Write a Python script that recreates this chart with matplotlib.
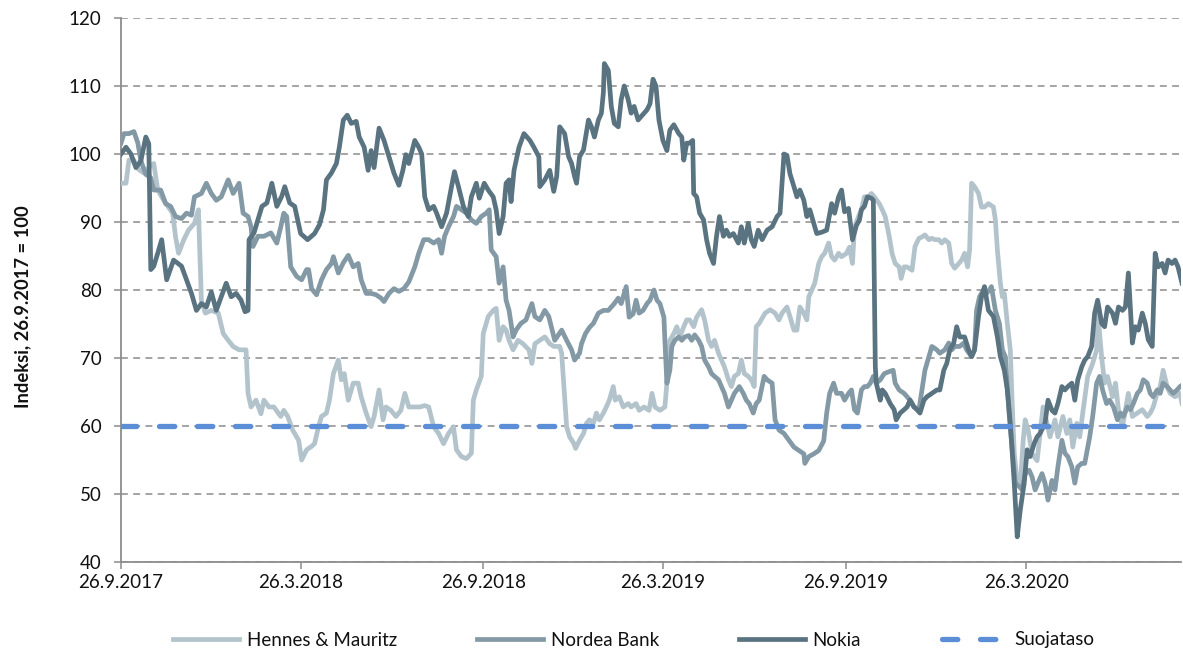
import numpy as np
import matplotlib
matplotlib.use("Agg")
import matplotlib.pyplot as plt

plt.rcParams['font.family'] = ['Lato', 'DejaVu Sans']

# ---------------- data ----------------
START = np.datetime64('2017-09-26')
END = np.datetime64('2020-08-29')
# day offsets below were read on the chart's own time scale
DAY_SCALE = 1.0086

tick_dates = ['2017-09-26', '2018-03-26', '2018-09-26', '2019-03-26', '2019-09-26', '2020-03-26']
tick_labels = ['26.9.2017', '26.3.2018', '26.9.2018', '26.3.2019', '26.9.2019', '26.3.2020']
y_ticks = [40, 50, 60, 70, 80, 90, 100, 110, 120]

hm_day = [0, 5, 8, 13, 18, 23, 28, 33, 37, 43, 52, 55, 58, 62, 67, 73, 77, 80, 84, 90, 97, 102, 107, 112, 118, 125,
          127, 130, 135, 140, 143, 148, 153, 160, 163, 167, 172, 177, 180, 185, 190, 193, 197, 200, 205, 208, 212, 217,
          220, 223, 227, 232, 237, 240, 245, 250, 253, 258, 262, 265, 270, 275, 280, 284, 288, 293, 298, 303, 307, 312,
          317, 322, 327, 332, 335, 340, 345, 350, 352, 355, 360, 362, 367, 372, 375, 378, 382, 385, 388, 392, 397, 402,
          407, 410, 413, 418, 423, 428, 432, 438, 440, 442, 445, 448, 452, 454, 458, 462, 465, 468, 472, 475, 478, 482,
          485, 488, 492, 494, 498, 502, 507, 510, 515, 518, 523, 527, 530, 533, 538, 543, 545, 548, 552, 555, 558, 562,
          565, 568, 572, 575, 580, 583, 587, 590, 593, 597, 600, 603, 607, 610, 613, 617, 620, 623, 627, 630, 633, 635,
          638, 643, 648, 653, 657, 660, 665, 668, 672, 675, 678, 682, 685, 687, 690, 693, 697, 700, 703, 707, 710, 713,
          717, 720, 725, 728, 731, 733, 737, 740, 743, 747, 750, 753, 757, 760, 763, 767, 770, 773, 777, 779, 782, 785,
          790, 793, 797, 800, 803, 807, 810, 813, 817, 820, 823, 827, 830, 833, 837, 840, 843, 846, 848, 850, 853, 857,
          860, 863, 867, 872, 873, 875, 878, 880, 882, 885, 888, 890, 892, 895, 898, 901, 903, 906, 910, 915, 918, 921,
          925, 928, 933, 936, 941, 945, 948, 951, 955, 958, 961, 966, 971, 975, 976, 980, 983, 986, 990, 993, 996, 1000,
          1003, 1006, 1010, 1015, 1020, 1025, 1028, 1031, 1035, 1038, 1041, 1045, 1048, 1053, 1058, 1060]
hm_val = [95.7, 95.7, 99.1, 99.1, 97.7, 97.2, 98.0, 98.6, 94.7, 93.2, 91.3, 87.8, 85.4, 87.3, 88.8, 89.8, 91.8, 78.5,
          76.6, 77.0, 76.6, 73.6, 72.6, 71.7, 71.2, 71.2, 64.8, 62.8, 63.8, 61.8, 63.8, 62.8, 62.8, 61.4, 62.3, 61.4,
          59.4, 57.9, 55.0, 56.5, 57.0, 57.4, 59.9, 61.4, 61.9, 63.8, 67.7, 69.7, 66.8, 67.7, 63.8, 66.3, 66.3, 64.3,
          61.9, 59.9, 61.4, 65.3, 60.9, 62.8, 62.3, 61.4, 62.3, 64.8, 62.8, 62.8, 62.8, 63.0, 62.8, 59.9, 58.9, 57.4,
          58.9, 59.9, 56.5, 55.5, 55.2, 56.0, 63.8, 65.3, 67.3, 73.6, 76.1, 77.0, 77.3, 72.6, 74.6, 74.1, 72.6, 71.2,
          72.6, 72.1, 71.2, 69.2, 72.1, 72.6, 73.1, 72.1, 71.7, 71.7, 70.7, 66.3, 59.9, 58.4, 57.5, 56.7, 57.9, 58.9,
          60.4, 60.9, 60.4, 61.9, 60.9, 61.9, 62.8, 63.8, 65.8, 63.8, 64.3, 62.8, 63.3, 62.8, 63.3, 62.3, 62.8, 62.3,
          64.8, 62.8, 62.3, 62.8, 66.3, 72.6, 73.6, 74.6, 73.1, 74.6, 75.6, 75.6, 74.6, 76.0, 77.1, 75.6, 72.6, 71.7,
          72.6, 70.7, 69.7, 68.7, 66.8, 65.8, 67.3, 67.7, 69.7, 67.7, 67.3, 66.8, 65.8, 74.6, 75.1, 76.6, 77.1, 76.6,
          75.6, 76.6, 77.5, 76.1, 74.1, 74.1, 77.5, 76.6, 75.6, 79.0, 80.0, 81.0, 83.9, 84.9, 85.4, 86.9, 84.9, 84.4,
          85.4, 84.9, 85.4, 86.3, 83.9, 89.2, 90.8, 91.8, 93.7, 93.7, 94.2, 93.7, 92.7, 91.8, 90.8, 87.9, 85.3, 83.9,
          83.4, 81.7, 83.4, 83.4, 82.9, 86.4, 87.6, 87.8, 88.1, 87.4, 87.6, 87.4, 87.4, 86.9, 87.4, 86.9, 83.9, 83.2,
          83.9, 84.4, 85.4, 83.4, 85.9, 95.7, 95.2, 94.2, 92.2, 92.2, 92.7, 92.2, 90.3, 85.9, 81.0, 79.0, 79.5, 75.1,
          71.2, 63.0, 56.0, 51.6, 51.1, 57.9, 60.9, 59.4, 55.9, 54.9, 58.9, 62.8, 60.4, 58.4, 60.9, 58.4, 61.4, 58.9,
          60.9, 56.9, 60.4, 58.4, 61.9, 67.3, 69.2, 71.2, 77.0, 70.2, 66.3, 67.3, 64.3, 66.3, 62.4, 59.9, 62.4, 64.8,
          61.4, 61.9, 62.4, 61.4, 61.9, 62.8, 64.8, 65.8, 68.2, 65.8, 64.8, 64.3, 64.8, 63.3]

nordea_day = [0, 3, 8, 13, 17, 20, 25, 30, 33, 40, 45, 50, 55, 60, 65, 70, 73, 80, 85, 90, 95, 100, 107, 112, 118, 122,
              127, 130, 132, 137, 143, 150, 156, 160, 163, 166, 170, 175, 180, 185, 187, 190, 195, 200, 205, 210, 212,
              217, 222, 227, 232, 237, 240, 245, 250, 255, 260, 263, 268, 273, 278, 283, 288, 293, 297, 302, 307, 312,
              317, 320, 323, 327, 332, 335, 340, 345, 350, 355, 360, 365, 368, 370, 375, 378, 382, 385, 388, 392, 395,
              400, 405, 410, 413, 418, 423, 427, 433, 440, 445, 450, 453, 458, 460, 464, 468, 472, 477, 482, 487, 493,
              497, 500, 505, 508, 512, 515, 518, 522, 525, 528, 532, 535, 538, 542, 543, 545, 548, 550, 553, 557, 560,
              563, 567, 570, 573, 577, 580, 583, 587, 590, 593, 597, 600, 603, 607, 610, 613, 618, 622, 625, 628, 632,
              635, 638, 642, 645, 650, 653, 657, 662, 667, 672, 677, 682, 683, 687, 692, 697, 702, 705, 708, 712, 715,
              720, 723, 727, 730, 733, 736, 740, 743, 746, 749, 752, 755, 758, 762, 767, 771, 773, 777, 782, 785, 788,
              792, 797, 800, 803, 807, 810, 815, 818, 823, 827, 830, 833, 838, 842, 845, 850, 853, 855, 858, 862, 865,
              868, 870, 873, 877, 880, 883, 887, 890, 893, 897, 900, 903, 907, 910, 913, 917, 920, 923, 926, 930, 933,
              936, 940, 943, 946, 950, 953, 956, 960, 963, 968, 971, 975, 978, 981, 985, 988, 991, 995, 998, 1001, 1005,
              1008, 1011, 1015, 1018, 1021, 1025, 1028, 1031, 1035, 1038, 1041, 1045, 1048, 1051, 1055, 1058, 1060]
nordea_val = [101.6, 103.0, 103.0, 103.3, 101.6, 99.0, 97.0, 96.5, 94.7, 94.7, 92.7, 92.3, 90.8, 90.5, 91.3, 91.0,
              93.7, 94.2, 95.7, 94.2, 93.2, 93.7, 96.2, 94.2, 95.7, 91.3, 90.8, 89.3, 86.4, 87.9, 87.9, 88.4, 86.9,
              89.3, 91.3, 90.8, 83.4, 82.0, 81.5, 83.0, 83.0, 80.2, 79.3, 81.5, 83.0, 83.9, 84.9, 82.5, 84.0, 85.1,
              83.4, 83.9, 81.5, 79.5, 79.5, 79.3, 78.8, 78.3, 79.5, 80.2, 79.8, 80.2, 81.2, 83.4, 85.4, 87.4, 87.4,
              86.9, 87.4, 85.4, 87.9, 89.3, 90.8, 92.3, 91.8, 91.3, 90.3, 89.8, 90.8, 91.3, 91.8, 85.9, 84.9, 81.0,
              83.4, 78.5, 77.0, 73.1, 74.1, 75.1, 75.6, 78.0, 76.1, 75.6, 77.0, 76.1, 72.6, 74.1, 72.6, 71.2, 69.7,
              70.7, 72.1, 73.6, 74.5, 75.1, 76.6, 77.0, 77.0, 78.0, 78.8, 78.0, 80.5, 76.0, 76.5, 78.5, 76.6, 77.0,
              78.0, 78.5, 80.0, 78.5, 78.0, 76.0, 72.6, 66.3, 68.2, 71.7, 72.6, 73.1, 72.6, 73.1, 73.3, 72.6, 73.4,
              72.6, 71.7, 69.7, 68.7, 67.7, 67.3, 66.8, 65.8, 64.8, 62.8, 63.8, 64.8, 65.8, 64.8, 63.8, 63.3, 61.9,
              63.3, 63.8, 67.3, 66.8, 66.3, 60.9, 59.4, 58.9, 57.9, 56.9, 56.4, 55.9, 54.5, 55.5, 55.9, 56.4, 57.8,
              61.9, 64.8, 66.3, 64.8, 64.8, 63.8, 64.8, 65.3, 62.4, 61.9, 65.3, 65.8, 65.8, 66.3, 67.3, 66.3, 66.8,
              67.7, 68.0, 68.2, 66.3, 65.3, 64.8, 64.3, 63.8, 62.8, 62.4, 65.3, 68.2, 70.2, 71.7, 71.2, 70.7, 71.2,
              72.2, 71.2, 71.7, 71.7, 72.2, 71.2, 70.2, 71.2, 77.0, 79.0, 80.0, 79.5, 80.0, 80.5, 77.0, 75.1, 71.2,
              70.2, 61.4, 56.5, 51.6, 51.1, 50.6, 53.0, 53.5, 52.5, 50.6, 52.0, 53.0, 51.6, 49.1, 52.0, 50.6, 54.0,
              57.9, 56.0, 55.5, 54.0, 51.6, 54.0, 54.5, 54.5, 58.4, 61.4, 66.3, 67.3, 65.3, 63.3, 63.8, 62.8, 60.9,
              61.9, 61.4, 62.8, 62.4, 63.3, 64.8, 65.3, 66.8, 66.3, 64.8, 64.3, 65.3, 64.8, 66.3, 65.8, 65.3, 64.8,
              65.3, 65.8, 66.0]

nokia_day = [0, 5, 10, 15, 20, 25, 28, 30, 33, 37, 41, 46, 53, 60, 65, 70, 75, 80, 85, 90, 95, 100, 105, 110, 115, 120,
             124, 127, 128, 133, 141, 146, 151, 156, 161, 164, 169, 174, 179, 186, 193, 198, 202, 205, 210, 215, 218,
             222, 226, 230, 235, 238, 243, 247, 250, 253, 258, 263, 268, 273, 278, 282, 285, 288, 293, 297, 300, 303,
             307, 312, 315, 320, 325, 330, 333, 337, 342, 347, 350, 355, 358, 363, 367, 372, 375, 378, 382, 385, 388,
             390, 393, 398, 403, 408, 412, 417, 418, 423, 428, 432, 435, 438, 443, 447, 450, 453, 455, 458, 462, 467,
             470, 473, 477, 480, 482, 483, 487, 490, 493, 497, 500, 503, 507, 510, 513, 517, 520, 525, 528, 531, 534,
             537, 541, 545, 548, 552, 557, 560, 562, 565, 568, 571, 572, 575, 578, 582, 585, 588, 592, 595, 598, 602,
             605, 608, 612, 617, 620, 623, 627, 630, 633, 637, 640, 645, 650, 655, 658, 662, 665, 668, 672, 675, 678,
             682, 685, 688, 692, 695, 700, 705, 710, 713, 717, 720, 723, 727, 731, 735, 738, 740, 743, 746, 750, 752,
             754, 755, 758, 760, 763, 768, 772, 774, 778, 782, 785, 788, 792, 795, 798, 802, 805, 810, 815, 818, 822,
             825, 828, 832, 835, 838, 843, 847, 850, 853, 857, 860, 863, 867, 872, 875, 878, 882, 885, 888, 892, 895,
             898, 902, 905, 908, 912, 915, 918, 920, 923, 926, 930, 933, 936, 940, 943, 946, 950, 953, 956, 960, 963,
             966, 970, 973, 976, 980, 983, 986, 990, 993, 996, 1000, 1003, 1006, 1010, 1013, 1016, 1020, 1023, 1026,
             1030, 1033, 1036, 1040, 1043, 1046, 1050, 1053, 1056, 1060]
nokia_val = [100.0, 101.0, 100.0, 98.0, 99.0, 102.5, 101.5, 83.0, 83.5, 85.4, 87.4, 81.5, 84.4, 83.5, 81.5, 79.5, 77.0,
             78.0, 77.5, 79.7, 77.0, 79.0, 81.0, 79.0, 79.5, 78.5, 76.8, 77.0, 87.4, 88.4, 92.3, 92.8, 95.7, 92.3,
             93.8, 95.2, 92.8, 92.3, 88.3, 87.4, 88.3, 89.6, 91.8, 96.2, 97.2, 98.6, 101.0, 105.0, 105.7, 104.5,
             104.8, 102.5, 101.0, 97.6, 100.5, 98.0, 103.8, 102.0, 99.6, 97.2, 95.4, 97.6, 99.9, 98.6, 102.0, 101.0,
             100.0, 93.7, 91.8, 92.3, 91.3, 89.3, 91.3, 95.2, 97.4, 95.2, 92.3, 90.8, 93.7, 95.7, 93.5, 95.7, 94.7,
             93.7, 91.8, 88.3, 90.8, 95.7, 96.2, 93.0, 97.6, 101.0, 103.0, 102.0, 101.0, 99.6, 95.2, 96.2, 97.6, 94.5,
             96.7, 104.0, 103.0, 99.6, 98.6, 96.7, 95.7, 99.6, 100.6, 105.0, 104.0, 102.5, 105.0, 106.0, 109.0,
             113.3, 112.3, 107.0, 104.5, 104.0, 108.0, 110.0, 108.0, 106.0, 107.0, 105.0, 105.5, 106.5, 107.4, 111.0,
             110.0, 105.0, 102.0, 100.5, 103.5, 104.3, 103.0, 102.5, 99.1, 101.6, 101.6, 102.0, 94.2, 93.7, 91.3,
             90.3, 87.4, 85.4, 83.9, 87.9, 90.8, 87.9, 88.8, 87.9, 88.3, 86.9, 89.3, 86.9, 89.8, 87.4, 86.4, 88.8,
             87.4, 88.8, 89.3, 90.8, 91.3, 100.0, 99.8, 97.1, 95.2, 93.7, 94.7, 93.2, 90.8, 91.8, 89.8, 88.3, 88.5,
             88.8, 92.7, 91.3, 93.7, 94.7, 91.5, 92.0, 87.4, 89.5, 90.3, 91.8, 92.3, 93.7, 93.5, 93.2, 68.7, 66.3,
             63.8, 65.3, 64.8, 63.3, 62.4, 60.9, 61.9, 62.4, 62.8, 63.8, 62.8, 62.4, 61.9, 63.8, 64.3, 64.8, 65.3,
             65.3, 68.2, 69.2, 71.2, 72.2, 74.6, 73.1, 73.1, 71.2, 70.2, 71.2, 76.1, 79.0, 80.5, 77.0, 76.1, 73.1,
             70.2, 68.2, 65.3, 60.4, 51.6, 43.7, 47.6, 51.6, 56.5, 55.5, 57.4, 58.4, 58.9, 59.5, 60.4, 63.8, 62.3,
             61.9, 63.3, 65.8, 65.3, 65.8, 66.3, 63.8, 66.8, 68.7, 69.7, 70.2, 71.7, 76.6, 78.5, 75.1, 74.6, 77.5,
             76.6, 75.1, 77.5, 77.0, 77.5, 82.5, 72.2, 74.6, 74.1, 76.6, 75.1, 72.7, 71.7, 85.4, 83.4, 83.9, 82.5,
             84.4, 83.9, 84.4, 83.4, 81.0]

protection_level = 60

series_names = ['Hennes & Mauritz', 'Nordea Bank', 'Nokia', 'Suojataso']
y_label = 'Indeksi, 26.9.2017 = 100'


def to_dates(days):
    off = np.round(np.asarray(days, dtype=float) * DAY_SCALE).astype(int)
    return START + off.astype('timedelta64[D]')


# ---------------- figure ----------------
W, H = 1183, 654
fig = plt.figure(figsize=(W / 100, H / 100), dpi=100)
ax = fig.add_axes([121 / W, 1 - 562 / H, (1181 - 121) / W, (562 - 18) / H])

c_hm = '#b3c3cc'
c_nordea = '#8399a5'
c_nokia = '#5a7381'
c_blue = '#5b8ed6'
c_grid = '#8c8c8c'

lw = 3.4
ax.plot(to_dates(hm_day), hm_val, color=c_hm, lw=lw, label=series_names[0], solid_joinstyle='round', zorder=3)
ax.plot(to_dates(nordea_day), nordea_val, color=c_nordea, lw=lw, label=series_names[1], solid_joinstyle='round', zorder=3)
ax.plot(to_dates(nokia_day), nokia_val, color=c_nokia, lw=lw, label=series_names[2], solid_joinstyle='round', zorder=3)
ax.plot([START, END], [protection_level, protection_level], color=c_blue, lw=3.8,
        linestyle=(0, (2.9, 4.3)), dash_capstyle='round', label=series_names[3], zorder=4)

ax.set_xlim(START, END)
ax.set_ylim(40, 120)
ax.set_yticks(y_ticks)
ax.set_xticks([np.datetime64(d) for d in tick_dates])
ax.set_xticklabels(tick_labels)

ax.yaxis.grid(True, color=c_grid, linestyle=(0, (4.5, 3.5)), linewidth=1.1, zorder=0)
ax.set_axisbelow(True)
for s in ['top', 'right']:
    ax.spines[s].set_visible(False)
for s in ['left', 'bottom']:
    ax.spines[s].set_color(c_grid)
    ax.spines[s].set_linewidth(1.3)

ax.tick_params(axis='both', colors=c_grid, length=5, width=1.1, direction='out',
               labelsize=13.5, labelcolor='#111111')
ax.tick_params(axis='y', pad=9)
ax.tick_params(axis='x', pad=4)

fig.text(23 / W, 1 - 307 / H, y_label, rotation=90, ha='center', va='center',
         fontsize=13.2, fontweight='bold', color='#111111')

leg = fig.legend(loc='center', bbox_to_anchor=(0.536, 1 - 640 / H), ncol=4, frameon=False,
                 fontsize=13.5, handlelength=3.5, handletextpad=0.4, columnspacing=4.3)
for t in leg.get_texts():
    t.set_color('#111111')

fig.savefig('out.png', dpi=100)
